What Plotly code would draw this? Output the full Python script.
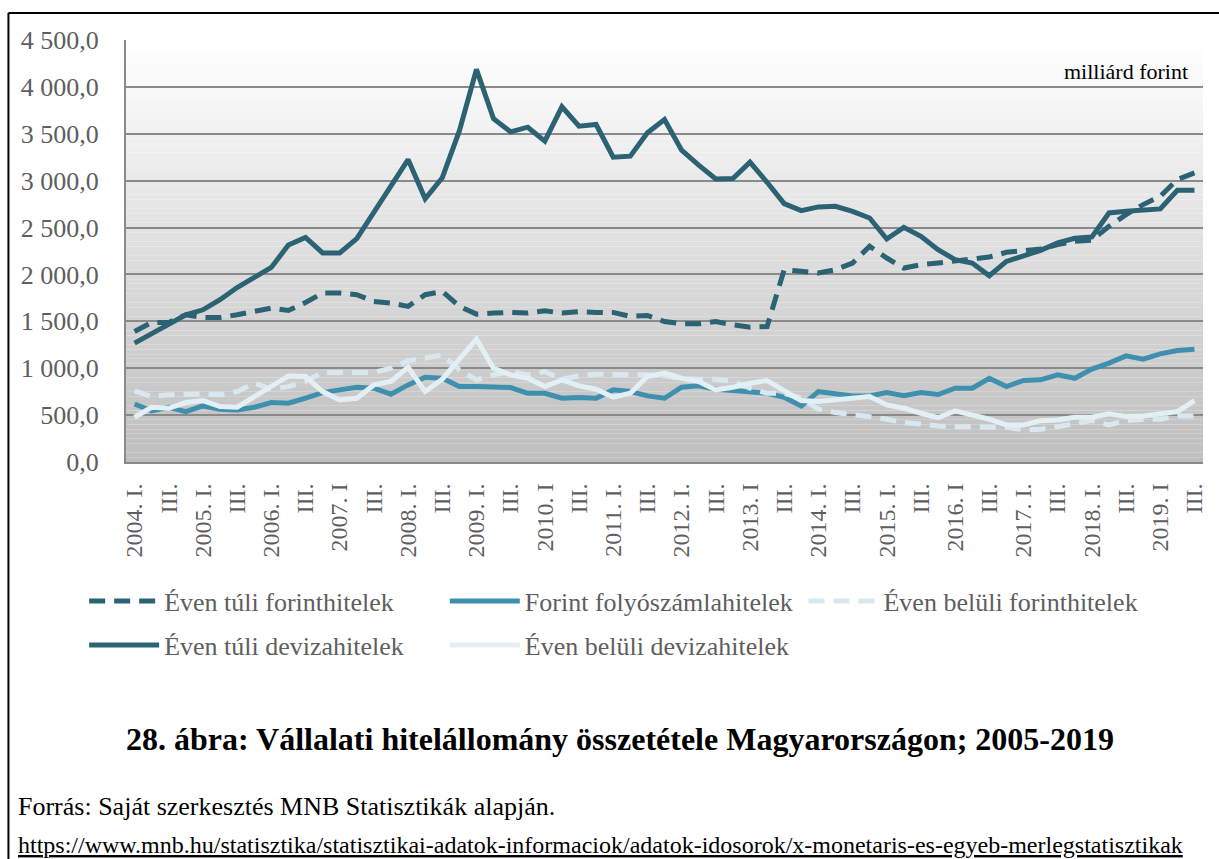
import plotly.graph_objects as go

# Quarterly corporate loan stock, billion HUF, 2004 Q1 - 2019 Q3
roman = ["I.", "II.", "III.", "IV."]
quarters = [f"{y}. {q}" for y in range(2004, 2020) for q in roman][:63]

tick_labels = [
    "2004. I.", "III.", "2005. I.", "III.", "2006. I.", "III.", "2007. I", "III.",
    "2008. I.", "III.", "2009. I.", "III.", "2010. I", "III.", "2011. I.", "III.",
    "2012. I.", "III.", "2013. I", "III.", "2014. I.", "III.", "2015. I.", "III.",
    "2016. I", "III.", "2017. I.", "III.", "2018. I.", "III.", "2019. I", "III.",
]

even_tuli_forint = [
    1392, 1488, 1488, 1570, 1541, 1541, 1570, 1605, 1641, 1616, 1701, 1801, 1801, 1784, 1712, 1695,
    1659, 1784, 1819, 1659, 1577, 1588, 1595, 1588, 1613, 1588, 1602, 1595, 1595, 1552, 1563, 1498,
    1474, 1474, 1498, 1463, 1438, 1445, 2050, 2033, 2015, 2050, 2122, 2300, 2175, 2068, 2104, 2122,
    2139, 2157, 2186, 2236, 2257, 2271, 2318, 2353, 2364, 2513, 2638, 2745, 2834, 3012, 3083,
]
forint_folyoszamla = [
    619, 545, 584, 537, 598, 563, 555, 584, 634, 627, 680, 740, 769, 797, 787, 723,
    822, 904, 893, 804, 804, 794, 794, 733, 733, 680, 687, 680, 769, 751, 705, 680,
    797, 812, 776, 762, 751, 733, 690, 598, 751, 726, 705, 705, 740, 708, 740, 720,
    787, 787, 893, 804, 869, 876, 929, 893, 990, 1054, 1132, 1097, 1153, 1189, 1203,
]
even_beluli_forint = [
    758, 698, 716, 726, 726, 716, 751, 840, 776, 804, 858, 954, 954, 947, 954, 1000,
    1080, 1107, 1143, 983, 876, 929, 964, 929, 964, 883, 918, 936, 936, 929, 929, 920,
    890, 883, 883, 860, 787, 733, 733, 680, 563, 527, 509, 484, 456, 420, 406, 384,
    377, 377, 377, 370, 342, 349, 377, 413, 441, 395, 441, 456, 456, 491, 491,
]
even_tuli_deviza = [
    1268, 1370, 1481, 1570, 1623, 1730, 1860, 1970, 2075, 2314, 2395, 2229, 2229, 2382, 2660, 2940,
    3225, 2806, 3030, 3530, 4187, 3660, 3521, 3570, 3421, 3788, 3581, 3599, 3250, 3261, 3510, 3653,
    3325, 3165, 3019, 3022, 3197, 2983, 2755, 2681, 2720, 2727, 2673, 2602, 2378, 2502, 2406, 2264,
    2157, 2122, 1986, 2139, 2200, 2257, 2336, 2385, 2400, 2656, 2673, 2691, 2699, 2898, 2898,
]
even_beluli_deviza = [
    477, 584, 573, 634, 655, 591, 584, 698, 812, 918, 911, 751, 662, 680, 822, 858,
    1010, 751, 883, 1107, 1310, 1000, 929, 893, 804, 876, 812, 776, 691, 733, 911, 947,
    893, 858, 769, 797, 840, 869, 769, 655, 644, 662, 687, 698, 609, 573, 520, 472,
    545, 502, 456, 395, 395, 441, 449, 477, 477, 513, 484, 491, 520, 537, 655,
]

SERIF = "Liberation Serif, Times New Roman, serif"
GREY_TEXT = "#5e5e5e"
W, H = 1219, 859
L, R, T, B = 126, 12, 40, 397
PW, PH = W - L - R, H - T - B


def px_x(px):
    return (px - L) / PW


def px_y(py):
    return (H - B - py) / PH


# name, values, colour, dash, legend box, legend box position (px)
series = [
    ("Éven túli forinthitelek", even_tuli_forint, "#2b6274", "16px,9px", "legend", (84, 601)),
    ("Forint folyószámlahitelek", forint_folyoszamla, "#3e90ae", "solid", "legend2", (446, 601)),
    ("Éven belüli forinthitelek", even_beluli_forint, "#d9e8f0", "16px,9px", "legend3", (806, 601)),
    ("Éven túli devizahitelek", even_tuli_deviza, "#2b6274", "solid", "legend4", (84, 645)),
    ("Éven belüli devizahitelek", even_beluli_deviza, "#e2eff5", "solid", "legend5", (446, 645)),
]

fig = go.Figure()
legend_layouts = {}
for name, vals, color, dash, leg, (lx, ly) in series:
    fig.add_trace(go.Scatter(
        x=quarters, y=vals, name=name, mode="lines",
        line=dict(color=color, width=5, dash=dash),
        legend=leg, showlegend=True,
    ))
    legend_layouts[leg] = dict(
        x=px_x(lx), y=px_y(ly), xanchor="left", yanchor="middle",
        orientation="h", itemwidth=70, bgcolor="rgba(0,0,0,0)",
        font=dict(family=SERIF, size=26, color=GREY_TEXT),
    )

shapes = []
# vertical white-to-grey gradient behind the plot area
n_bands = 90
for k in range(n_bands):
    t0, t1 = k / n_bands, (k + 1) / n_bands
    g = int(round(190 + (255 - 190) * (t0 + t1) / 2))
    shapes.append(dict(
        type="rect", xref="x domain", yref="y domain", x0=0, x1=1, y0=t0, y1=t1,
        fillcolor=f"rgb({g},{g},{g})", line=dict(width=0), layer="below",
    ))
# outer frame (top and left edges)
shapes.append(dict(type="line", xref="paper", yref="paper",
                   x0=px_x(8), x1=px_x(W + 5), y0=px_y(13), y1=px_y(13),
                   line=dict(color="black", width=2)))
shapes.append(dict(type="line", xref="paper", yref="paper",
                   x0=px_x(8), x1=px_x(8), y0=px_y(13), y1=px_y(H + 5),
                   line=dict(color="black", width=2)))

annotations = [
    dict(text="milliárd forint", xref="paper", yref="paper",
         x=px_x(1194), y=px_y(71), xanchor="right", yanchor="middle",
         showarrow=False, font=dict(family=SERIF, size=22, color="black")),
    dict(text="<b>28. ábra: Vállalati hitelállomány összetétele Magyarországon; 2005-2019</b>",
         xref="paper", yref="paper", x=px_x(622), y=px_y(739),
         xanchor="center", yanchor="middle", showarrow=False,
         font=dict(family=SERIF, size=32, color="black")),
    dict(text="Forrás: Saját szerkesztés MNB Statisztikák alapján.",
         xref="paper", yref="paper", x=px_x(16), y=px_y(806),
         xanchor="left", yanchor="middle", showarrow=False,
         font=dict(family=SERIF, size=26, color="black")),
    dict(text="<u>https://www.mnb.hu/statisztika/statisztikai-adatok-informaciok/adatok-idosorok/x-monetaris-es-egyeb-merlegstatisztikak</u>",
         xref="paper", yref="paper", x=px_x(16), y=px_y(845),
         xanchor="left", yanchor="middle", showarrow=False,
         font=dict(family=SERIF, size=24, color="black")),
]

fig.update_layout(
    width=W, height=H,
    margin=dict(l=L, r=R, t=T, b=B, pad=0),
    paper_bgcolor="white", plot_bgcolor="white",
    separators=", ", showlegend=True,
    font=dict(family=SERIF, color=GREY_TEXT),
    shapes=shapes, annotations=annotations,
    xaxis=dict(
        type="category", range=[-0.5, len(quarters) - 0.5],
        tickmode="array", tickvals=quarters[::2], ticktext=tick_labels,
        tickangle=-90, tickfont=dict(family=SERIF, size=24, color=GREY_TEXT),
        showgrid=False, showline=True, linecolor="#8a8a8a", linewidth=2,
        ticks="", ticklabelstandoff=10,
    ),
    yaxis=dict(
        range=[0, 4500], dtick=500, tickformat=",.1f",
        tickfont=dict(family=SERIF, size=26, color=GREY_TEXT),
        showgrid=True, gridcolor="#8a8a8a", gridwidth=2,
        showline=True, linecolor="#8a8a8a", linewidth=2,
        zeroline=False, ticks="", ticklabelstandoff=20,
    ),
    **legend_layouts,
)

fig.write_html("out.html")
